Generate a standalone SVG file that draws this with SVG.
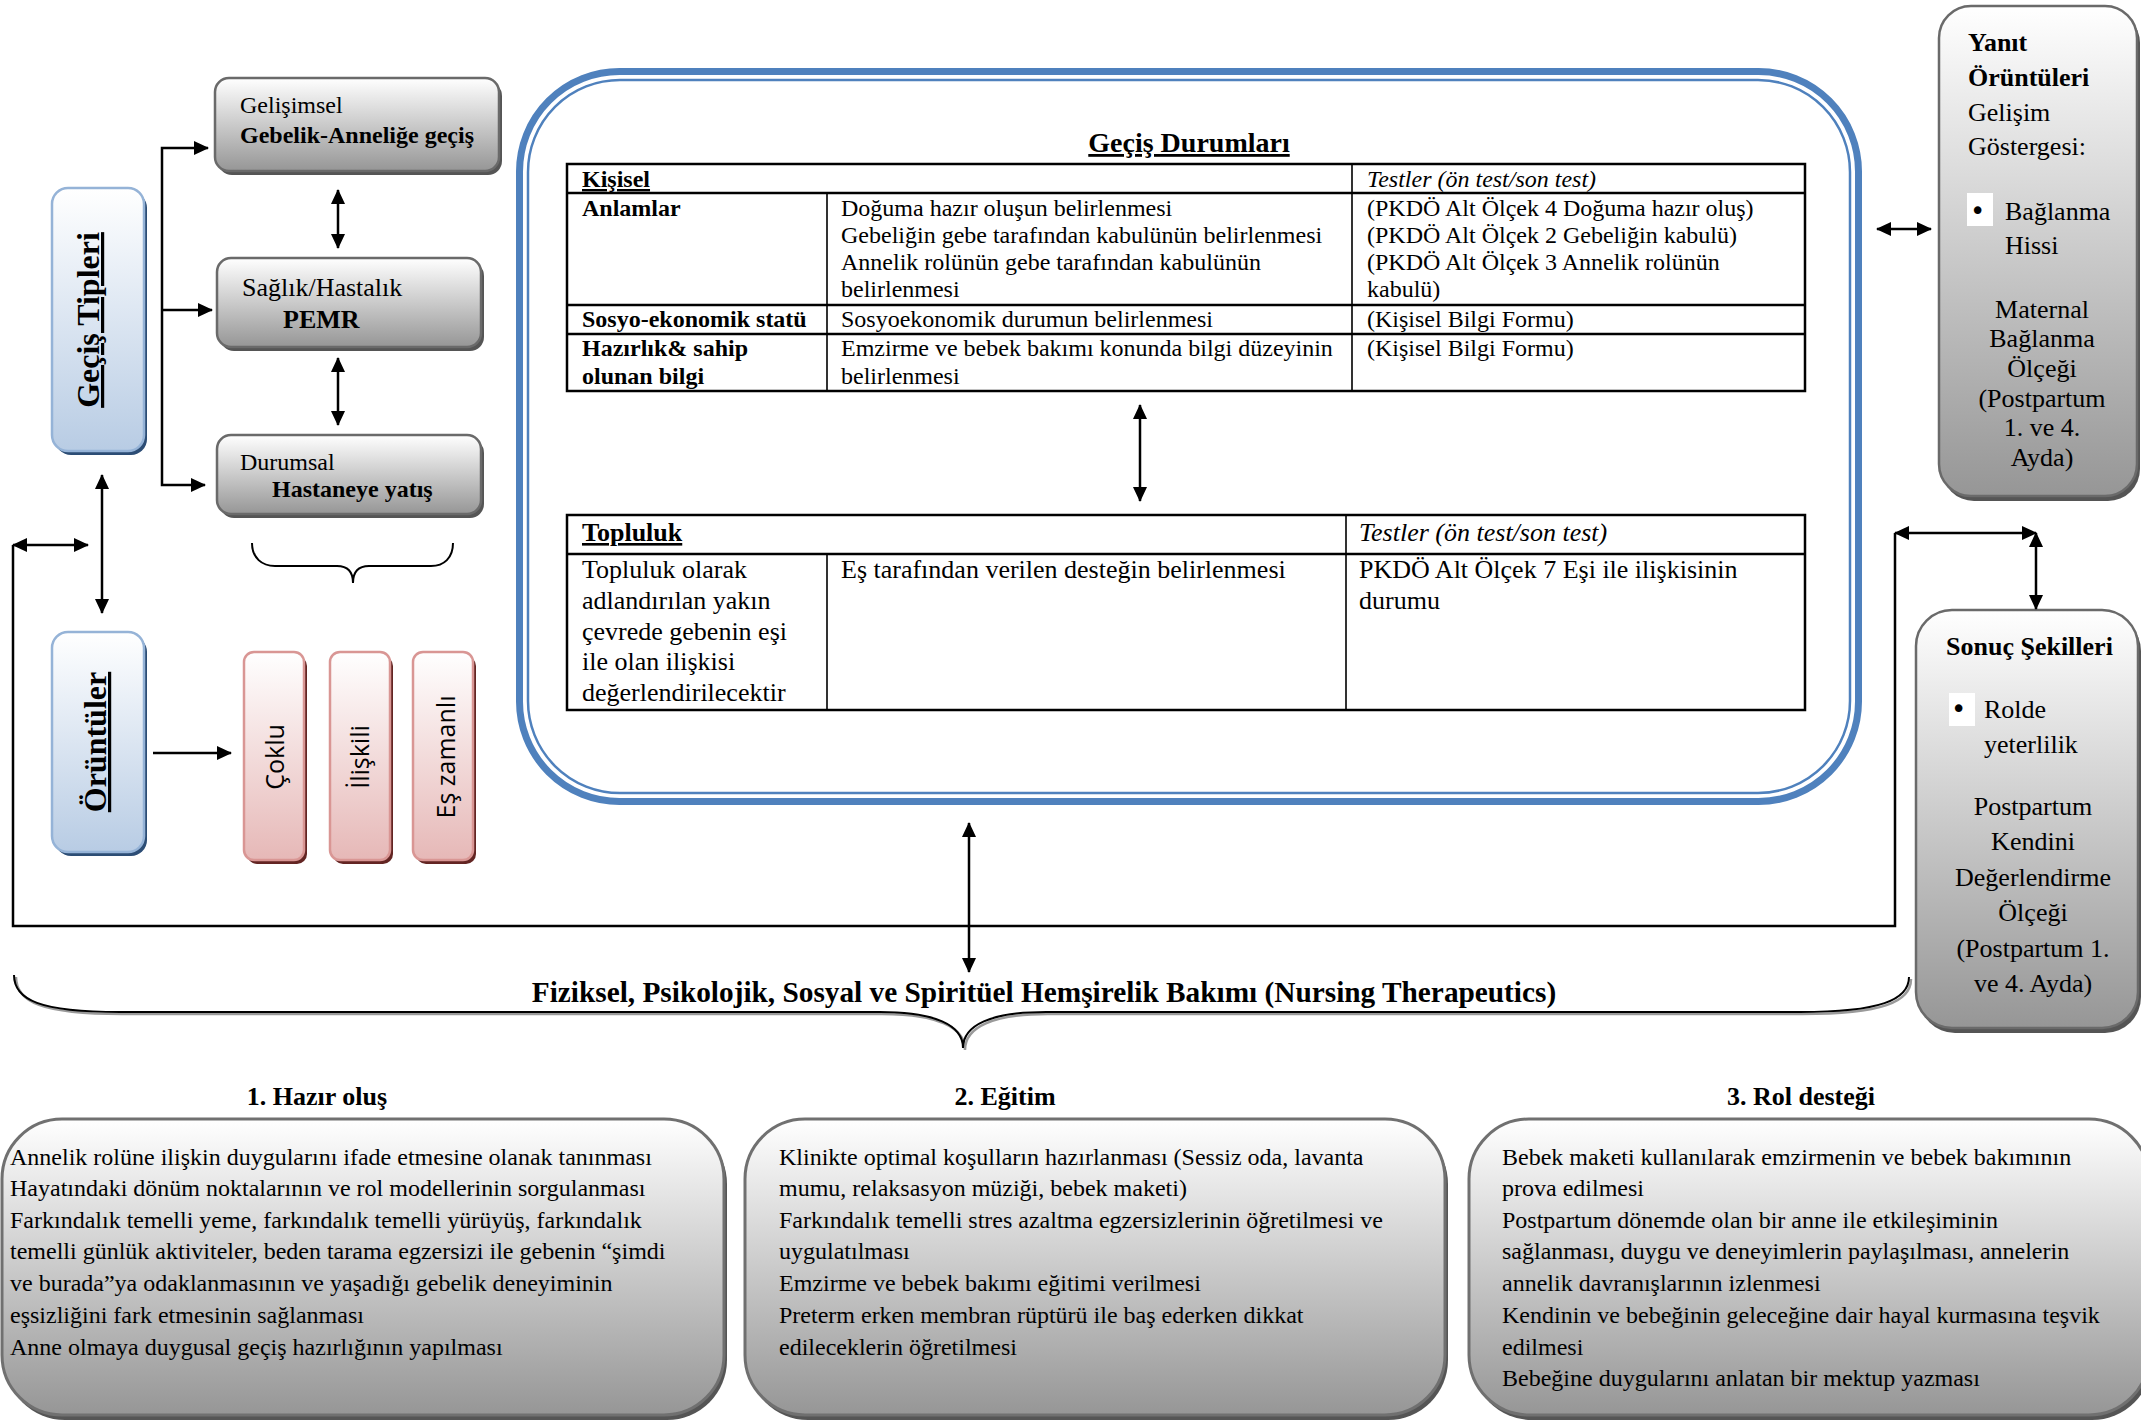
<svg xmlns="http://www.w3.org/2000/svg" width="2141" height="1424" viewBox="0 0 2141 1424">
<style>
text{font-family:"Liberation Serif","Times New Roman",serif;fill:#000}
.s24{font-size:24px}.s26{font-size:26px}.s28{font-size:28px}.s29{font-size:29.3px}.s32{font-size:32px}
.b{font-weight:bold}.i{font-style:italic}.u{text-decoration:underline}
.c{text-anchor:middle}
.bul{font-family:"DejaVu Sans",sans-serif;font-size:26px}
.sans{font-family:"Open Sans","Noto Sans","DejaVu Sans",sans-serif;font-size:25px}
.conn{stroke:#000;stroke-width:2.5;fill:none}
.arr2{marker-start:url(#ah);marker-end:url(#ah)}
.arr1{marker-end:url(#ah)}
.gray{fill:url(#gGray);stroke:#6a6a6a;stroke-width:2.5}
.gshadow{fill:#555}
.blue{fill:url(#gBlue);stroke:#95b3d7;stroke-width:2.5}
.bshadow{fill:#2c4d75}
.pink{fill:url(#gPink);stroke:#d99694;stroke-width:2.5}
.pshadow{fill:#632523}
.tbl{stroke:#000;fill:none}
</style>
<defs>
<linearGradient id="gGray" x1="0" y1="0" x2="0" y2="1"><stop offset="0" stop-color="#ffffff"/><stop offset="1" stop-color="#969696"/></linearGradient>
<linearGradient id="gBlue" x1="0" y1="0" x2="0" y2="1"><stop offset="0" stop-color="#ffffff"/><stop offset="1" stop-color="#b8cce4"/></linearGradient>
<linearGradient id="gPink" x1="0" y1="0" x2="0" y2="1"><stop offset="0" stop-color="#ffffff"/><stop offset="1" stop-color="#e6b8b7"/></linearGradient>
<marker id="ah" markerUnits="userSpaceOnUse" markerWidth="15" markerHeight="14" viewBox="0 0 15 14" refX="14" refY="7" orient="auto-start-reverse"><path d="M0,0 L15,7 L0,14 z" fill="#000"/></marker>
</defs>

<!-- Left: transition types -->
<g id="gecis-tipleri">
<rect class="bshadow" x="55" y="192" width="92" height="263" rx="16"/>
<rect class="blue" x="52" y="188" width="92" height="263" rx="16"/>
<text class="s32 b u c" transform="translate(99,320) rotate(-90)">Geçiş Tipleri</text>
</g>
<g id="gelisimsel">
<rect class="gshadow" x="218" y="82" width="284" height="93" rx="14"/>
<rect class="gray" x="215" y="78" width="284" height="93" rx="14"/>
<text class="s24" x="240" y="113">Gelişimsel</text>
<text class="s24 b" x="240" y="143">Gebelik-Anneliğe geçiş</text>
</g>
<g id="saglik">
<rect class="gshadow" x="220" y="262" width="264" height="89" rx="14"/>
<rect class="gray" x="217" y="258" width="264" height="89" rx="14"/>
<text class="s26" x="242" y="296">Sağlık/Hastalık</text>
<text class="s26 b" x="283" y="328">PEMR</text>
</g>
<g id="durumsal">
<rect class="gshadow" x="220" y="439" width="264" height="79" rx="14"/>
<rect class="gray" x="217" y="435" width="264" height="79" rx="14"/>
<text class="s24" x="240" y="470">Durumsal</text>
<text class="s24 b" x="272" y="497">Hastaneye yatış</text>
</g>
<g id="oruntuler">
<rect class="bshadow" x="55" y="636" width="92" height="220" rx="16"/>
<rect class="blue" x="52" y="632" width="92" height="220" rx="16"/>
<text class="s32 b u c" transform="translate(106,742) rotate(-90)">Örüntüler</text>
</g>
<g id="coklu">
<rect class="pshadow" x="247" y="656" width="60" height="208" rx="10"/>
<rect class="pink" x="244" y="652" width="60" height="208" rx="10"/>
<text class="sans c" transform="translate(284,757) rotate(-90)">Çoklu</text>
</g>
<g id="iliskili">
<rect class="pshadow" x="333" y="656" width="60" height="208" rx="10"/>
<rect class="pink" x="330" y="652" width="60" height="208" rx="10"/>
<text class="sans c" transform="translate(369,757) rotate(-90)">İlişkili</text>
</g>
<g id="es-zamanli">
<rect class="pshadow" x="416" y="656" width="60" height="208" rx="10"/>
<rect class="pink" x="413" y="652" width="60" height="208" rx="10"/>
<text class="sans c" transform="translate(455,757) rotate(-90)">Eş zamanlı</text>
</g>

<!-- Central: Geçiş Durumları -->
<g id="gecis-durumlari">
<rect x="519.5" y="71.5" width="1339" height="730" rx="100" fill="#fff" stroke="#4f81bd" stroke-width="7"/>
<rect x="528" y="80" width="1322" height="713" rx="92" fill="none" stroke="#4f81bd" stroke-width="2.5"/>
<text class="s28 b u c" x="1189" y="152">Geçiş Durumları</text>
</g>
<g id="tablo-kisisel">
<rect class="tbl" x="567" y="164" width="1238" height="227" stroke-width="2.5"/>
<path class="tbl" stroke-width="2.5" d="M567,193 H1805 M567,305 H1805 M567,334 H1805"/>
<path class="tbl" stroke-width="1.6" d="M827,193 V391 M1352,164 V391"/>
<text class="s24 b u" x="582" y="187">Kişisel</text>
<text class="s24 i" x="1367" y="187">Testler (ön test/son test)</text>
<text class="s24 b" x="582" y="216">Anlamlar</text>
<text class="s24" x="841" y="216">Doğuma hazır oluşun belirlenmesi</text>
<text class="s24" x="841" y="243">Gebeliğin gebe tarafından kabulünün belirlenmesi</text>
<text class="s24" x="841" y="270">Annelik rolünün gebe tarafından kabulünün</text>
<text class="s24" x="841" y="297">belirlenmesi</text>
<text class="s24" x="1367" y="216">(PKDÖ Alt Ölçek 4 Doğuma hazır oluş)</text>
<text class="s24" x="1367" y="243">(PKDÖ Alt Ölçek 2 Gebeliğin kabulü)</text>
<text class="s24" x="1367" y="270">(PKDÖ Alt Ölçek 3 Annelik rolünün</text>
<text class="s24" x="1367" y="297">kabulü)</text>
<text class="s24 b" x="582" y="327">Sosyo-ekonomik statü</text>
<text class="s24" x="841" y="327">Sosyoekonomik durumun belirlenmesi</text>
<text class="s24" x="1367" y="327">(Kişisel Bilgi Formu)</text>
<text class="s24 b" x="582" y="356">Hazırlık&amp; sahip</text>
<text class="s24 b" x="582" y="384">olunan bilgi</text>
<text class="s24" x="841" y="356">Emzirme ve bebek bakımı konunda bilgi düzeyinin</text>
<text class="s24" x="841" y="384">belirlenmesi</text>
<text class="s24" x="1367" y="356">(Kişisel Bilgi Formu)</text>
</g>
<g id="tablo-topluluk">
<rect class="tbl" x="567" y="515" width="1238" height="195" stroke-width="2.5"/>
<path class="tbl" stroke-width="2.5" d="M567,554 H1805"/>
<path class="tbl" stroke-width="1.6" d="M827,554 V710 M1346,515 V710"/>
<text class="s26 b u" x="582" y="541">Topluluk</text>
<text class="s26 i" x="1359" y="541">Testler (ön test/son test)</text>
<text class="s26" x="582" y="578">Topluluk olarak</text>
<text class="s26" x="582" y="609">adlandırılan yakın</text>
<text class="s26" x="582" y="640">çevrede gebenin eşi</text>
<text class="s26" x="582" y="670">ile olan ilişkisi</text>
<text class="s26" x="582" y="701">değerlendirilecektir</text>
<text class="s26" x="841" y="578">Eş tarafından verilen desteğin belirlenmesi</text>
<text class="s26" x="1359" y="578">PKDÖ Alt Ölçek 7 Eşi ile ilişkisinin</text>
<text class="s26" x="1359" y="609">durumu</text>
</g>

<!-- Right boxes -->
<g id="yanit-oruntuleri">
<rect class="gshadow" x="1942" y="11" width="198" height="490" rx="32"/>
<rect class="gray" x="1939" y="6" width="198" height="490" rx="32"/>
<text class="s26 b" x="1968" y="51">Yanıt</text>
<text class="s26 b" x="1968" y="86">Örüntüleri</text>
<text class="s26" x="1968" y="121">Gelişim</text>
<text class="s26" x="1968" y="155">Göstergesi:</text>
<rect x="1967" y="193" width="26" height="33" fill="#fff"/>
<text class="bul" x="1970" y="220">•</text>
<text class="s26" x="2005" y="220">Bağlanma</text>
<text class="s26" x="2005" y="254">Hissi</text>
<text class="s26 c" x="2042" y="318">Maternal</text>
<text class="s26 c" x="2042" y="347">Bağlanma</text>
<text class="s26 c" x="2042" y="377">Ölçeği</text>
<text class="s26 c" x="2042" y="407">(Postpartum</text>
<text class="s26 c" x="2042" y="436">1. ve 4.</text>
<text class="s26 c" x="2042" y="466">Ayda)</text>
</g>
<g id="sonuc-sekilleri">
<rect class="gshadow" x="1919" y="615" width="222" height="418" rx="36"/>
<rect class="gray" x="1916" y="610" width="222" height="418" rx="36"/>
<text class="s26 b" x="1946" y="655">Sonuç Şekilleri</text>
<rect x="1949" y="693" width="26" height="33" fill="#fff"/>
<text class="bul" x="1951" y="718">•</text>
<text class="s26" x="1984" y="718">Rolde</text>
<text class="s26" x="1984" y="753">yeterlilik</text>
<text class="s26 c" x="2033" y="815">Postpartum</text>
<text class="s26 c" x="2033" y="850">Kendini</text>
<text class="s26 c" x="2033" y="886">Değerlendirme</text>
<text class="s26 c" x="2033" y="921">Ölçeği</text>
<text class="s26 c" x="2033" y="957">(Postpartum 1.</text>
<text class="s26 c" x="2033" y="992">ve 4. Ayda)</text>
</g>

<!-- Nursing therapeutics -->
<g id="hemsirelik-bakimi">
<path d="M16,977 C16,1002 42,1014 122,1014 L882,1014 C937,1014 965,1027 965,1050 C965,1027 993,1014 1048,1014 L1802,1014 C1882,1014 1911,1002 1911,979" fill="none" stroke="#9a9a9a" stroke-width="2.5"/>
<path d="M14,975 C14,1000 40,1012 120,1012 L880,1012 C935,1012 963,1025 963,1048 C963,1025 991,1012 1046,1012 L1800,1012 C1880,1012 1909,1000 1909,977" fill="none" stroke="#000" stroke-width="2"/>
<text class="s29 b c" x="1044" y="1002">Fiziksel, Psikolojik, Sosyal ve Spiritüel Hemşirelik Bakımı (Nursing Therapeutics)</text>
</g>
<g id="hazir-olus">
<text class="s26 b c" x="317" y="1105">1. Hazır oluş</text>
<rect class="gshadow" x="5" y="1124" width="722" height="296" rx="60"/>
<rect x="2" y="1119" width="722" height="296" rx="60" fill="url(#gGray)" stroke="#707070" stroke-width="3"/>
<text class="s24" x="10" y="1165">Annelik rolüne ilişkin duygularını ifade etmesine olanak tanınması</text>
<text class="s24" x="10" y="1196">Hayatındaki dönüm noktalarının ve rol modellerinin sorgulanması</text>
<text class="s24" x="10" y="1228">Farkındalık temelli yeme, farkındalık temelli yürüyüş, farkındalık</text>
<text class="s24" x="10" y="1259">temelli günlük aktiviteler, beden tarama egzersizi ile gebenin “şimdi</text>
<text class="s24" x="10" y="1291">ve burada”ya odaklanmasının ve yaşadığı gebelik deneyiminin</text>
<text class="s24" x="10" y="1323">eşsizliğini fark etmesinin sağlanması</text>
<text class="s24" x="10" y="1355">Anne olmaya duygusal geçiş hazırlığının yapılması</text>
</g>
<g id="egitim">
<text class="s26 b c" x="1005" y="1105">2. Eğitim</text>
<rect class="gshadow" x="748" y="1124" width="700" height="296" rx="60"/>
<rect x="745" y="1119" width="700" height="296" rx="60" fill="url(#gGray)" stroke="#707070" stroke-width="3"/>
<text class="s24" x="779" y="1165">Klinikte optimal koşulların hazırlanması (Sessiz oda, lavanta</text>
<text class="s24" x="779" y="1196">mumu, relaksasyon müziği, bebek maketi)</text>
<text class="s24" x="779" y="1228">Farkındalık temelli stres azaltma egzersizlerinin öğretilmesi ve</text>
<text class="s24" x="779" y="1259">uygulatılması</text>
<text class="s24" x="779" y="1291">Emzirme ve bebek bakımı eğitimi verilmesi</text>
<text class="s24" x="779" y="1323">Preterm erken membran rüptürü ile baş ederken dikkat</text>
<text class="s24" x="779" y="1355">edileceklerin öğretilmesi</text>
</g>
<g id="rol-destegi">
<text class="s26 b c" x="1801" y="1105">3. Rol desteği</text>
<rect class="gshadow" x="1472" y="1124" width="680" height="296" rx="60"/>
<rect x="1469" y="1119" width="680" height="296" rx="60" fill="url(#gGray)" stroke="#707070" stroke-width="3"/>
<text class="s24" x="1502" y="1165">Bebek maketi kullanılarak emzirmenin ve bebek bakımının</text>
<text class="s24" x="1502" y="1196">prova edilmesi</text>
<text class="s24" x="1502" y="1228">Postpartum dönemde olan bir anne ile etkileşiminin</text>
<text class="s24" x="1502" y="1259">sağlanması, duygu ve deneyimlerin paylaşılması, annelerin</text>
<text class="s24" x="1502" y="1291">annelik davranışlarının izlenmesi</text>
<text class="s24" x="1502" y="1323">Kendinin ve bebeğinin geleceğine dair hayal kurmasına teşvik</text>
<text class="s24" x="1502" y="1355">edilmesi</text>
<text class="s24" x="1502" y="1386">Bebeğine duygularını anlatan bir mektup yazması</text>
</g>

<!-- Connectors -->
<g id="connectors">
<path class="conn arr2" d="M208,148 H162 V485 H205"/>
<path class="conn arr1" d="M162,310 H212"/>
<path class="conn arr2" d="M338,190 V248"/>
<path class="conn arr2" d="M338,358 V425"/>
<path class="conn arr2" d="M102,475 V613"/>
<path class="conn arr2" d="M13,545 H88"/>
<path class="conn" d="M13,545 V926 H1895 V533"/>
<path class="conn arr2" d="M1895,533 H2036"/>
<path class="conn arr2" d="M2036,533 V609"/>
<path class="conn arr1" d="M153,753 H231"/>
<path class="conn arr2" d="M1140,405 V501"/>
<path class="conn arr2" d="M969,823 V972"/>
<path class="conn arr2" d="M1877,229 H1931"/>
<path d="M252,543 C252,558 262,566 275,566 L337,566 C348,566 353,572 353,583 C353,572 358,566 369,566 L431,566 C444,566 453,558 453,543" fill="none" stroke="#000" stroke-width="2"/>
</g>
</svg>
